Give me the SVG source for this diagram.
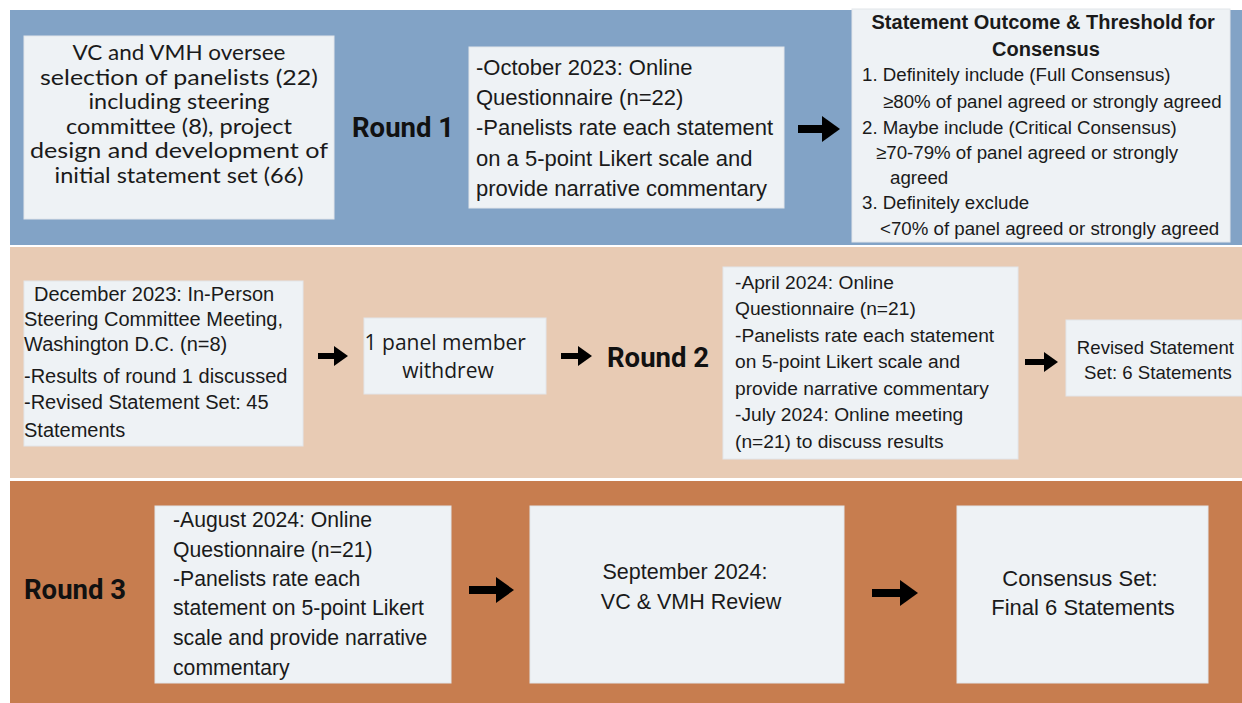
<svg xmlns="http://www.w3.org/2000/svg" width="1242" height="703" viewBox="0 0 1242 703">
<style>
.box{fill:#EEF2F5;stroke:#E2E6EA;stroke-width:1}
.t{font-family:"Liberation Sans",Arial,sans-serif;fill:#1a1a1a}
.h{font-family:Lato,"Open Sans",sans-serif;fill:#1a1a1a;font-size:20.5px;text-anchor:middle}
.o{font-family:"Open Sans",Lato,sans-serif;fill:#1a1a1a}
.r{font-family:Roboto,"Liberation Sans",sans-serif;font-weight:bold;fill:#111}
.c{stroke:#000;fill:none}
</style>
<defs>
<marker id="ah" markerUnits="userSpaceOnUse" markerWidth="20" markerHeight="26" refX="0" refY="13" orient="auto">
<path d="M0,0 L18,13 L0,26 Z" fill="#000"/>
</marker>
<marker id="ahs" markerUnits="userSpaceOnUse" markerWidth="16" markerHeight="20" refX="0" refY="10" orient="auto">
<path d="M0,0 L14,10 L0,20 Z" fill="#000"/>
</marker>
</defs>
<rect x="0" y="0" width="1242" height="703" fill="#ffffff"/>
<rect x="10" y="10" width="1232" height="235" fill="#82A3C6"/>
<rect x="10" y="247" width="1232" height="231" fill="#E8CBB4"/>
<rect x="10" y="481" width="1232" height="222" fill="#C77D4F"/>

<g id="n1">
<rect class="box" x="24" y="36" width="310" height="183"/>
<text class="h" x="179" y="60" textLength="213" lengthAdjust="spacingAndGlyphs">VC and VMH oversee</text>
<text class="h" x="179" y="84.5" textLength="278" lengthAdjust="spacingAndGlyphs">selection of panelists (22)</text>
<text class="h" x="179" y="109" textLength="181" lengthAdjust="spacingAndGlyphs">including steering</text>
<text class="h" x="179" y="133.5" textLength="226" lengthAdjust="spacingAndGlyphs">committee (8), project</text>
<text class="h" x="179" y="158" textLength="298" lengthAdjust="spacingAndGlyphs">design and development of</text>
<text class="h" x="179" y="182.5" textLength="249" lengthAdjust="spacingAndGlyphs">initial statement set (66)</text>
</g>
<g id="round1"><text class="r" font-size="27.5" x="352" y="137">Round 1</text></g>
<g id="n2">
<rect class="box" x="469" y="47" width="315" height="161"/>
<text class="t" font-size="22">
<tspan x="476" y="75">-October 2023: Online</tspan>
<tspan x="476" y="105">Questionnaire (n=22)</tspan>
<tspan x="476" y="135">-Panelists rate each statement</tspan>
<tspan x="476" y="166">on a 5-point Likert scale and</tspan>
<tspan x="476" y="196">provide narrative commentary</tspan>
</text>
</g>
<g id="n3">
<rect class="box" x="852" y="9" width="378" height="233"/>
<text class="t" font-size="20" font-weight="bold" text-anchor="middle">
<tspan x="1046" y="29">Statement Outcome &amp; Threshold for</tspan>
<tspan x="1046" y="56">Consensus</tspan>
</text>
<text class="t" font-size="18.7">
<tspan x="862" y="81">1. Definitely include (Full Consensus)</tspan>
<tspan x="883" y="108">≥80% of panel agreed or strongly agreed</tspan>
<tspan x="862" y="134">2. Maybe include (Critical Consensus)</tspan>
<tspan x="876" y="159">≥70-79% of panel agreed or strongly</tspan>
<tspan x="890" y="184">agreed</tspan>
<tspan x="862" y="209">3. Definitely exclude</tspan>
<tspan x="880" y="235">&lt;70% of panel agreed or strongly agreed</tspan>
</text>
</g>

<g id="n4">
<rect class="box" x="24" y="281" width="279" height="165"/>
<text class="t" font-size="20">
<tspan x="34" y="301">December 2023: In-Person</tspan>
<tspan x="24" y="326">Steering Committee Meeting,</tspan>
<tspan x="24" y="351">Washington D.C. (n=8)</tspan>
<tspan x="24" y="383">-Results of round 1 discussed</tspan>
<tspan x="24" y="409">-Revised Statement Set: 45</tspan>
<tspan x="24" y="437">Statements</tspan>
</text>
</g>
<g id="n5">
<rect class="box" x="364" y="318" width="182" height="76"/>
<text class="o" font-size="21" text-anchor="middle">
<tspan x="448" y="350">1 panel member</tspan>
<tspan x="448" y="378">withdrew</tspan>
</text>
</g>
<g id="round2"><text class="r" font-size="27.5" x="607" y="367">Round 2</text></g>
<g id="n6">
<rect class="box" x="723" y="267" width="295" height="192"/>
<text class="t" font-size="19.2">
<tspan x="735" y="289">-April 2024: Online</tspan>
<tspan x="735" y="315">Questionnaire (n=21)</tspan>
<tspan x="735" y="342">-Panelists rate each statement</tspan>
<tspan x="735" y="368">on 5-point Likert scale and</tspan>
<tspan x="735" y="395">provide narrative commentary</tspan>
<tspan x="735" y="421">-July 2024: Online meeting</tspan>
<tspan x="735" y="448">(n=21) to discuss results</tspan>
</text>
</g>
<g id="n7">
<rect class="box" x="1066" y="320" width="176" height="76"/>
<text class="t" font-size="18.6" text-anchor="middle">
<tspan x="1158" y="354">Revised Statement</tspan>
<tspan x="1158" y="379">Set: 6 Statements</tspan>
</text>
</g>

<g id="round3"><text class="r" font-size="27.5" x="24" y="599">Round 3</text></g>
<g id="n8">
<rect class="box" x="155" y="506" width="296" height="177"/>
<text class="t" font-size="21.2">
<tspan x="173" y="527">-August 2024: Online</tspan>
<tspan x="173" y="557">Questionnaire (n=21)</tspan>
<tspan x="173" y="586">-Panelists rate each</tspan>
<tspan x="173" y="615">statement on 5-point Likert</tspan>
<tspan x="173" y="645">scale and provide narrative</tspan>
<tspan x="173" y="675">commentary</tspan>
</text>
</g>
<g id="n9">
<rect class="box" x="530" y="506" width="314" height="177"/>
<text class="t" font-size="21.5" text-anchor="middle">
<tspan x="688" y="579">September 2024:</tspan>
<tspan x="691" y="609">VC &amp; VMH Review</tspan>
</text>
</g>
<g id="n10">
<rect class="box" x="957" y="506" width="251" height="177"/>
<text class="t" font-size="22" text-anchor="middle">
<tspan x="1083" y="586">Consensus Set:</tspan>
<tspan x="1083" y="615">Final 6 Statements</tspan>
</text>
</g>

<g id="connectors">
<line class="c" x1="798" y1="129" x2="822" y2="129" stroke-width="8" marker-end="url(#ah)"/>
<line class="c" x1="318" y1="356" x2="334" y2="356" stroke-width="6" marker-end="url(#ahs)"/>
<line class="c" x1="561" y1="356" x2="578" y2="356" stroke-width="6" marker-end="url(#ahs)"/>
<line class="c" x1="1025" y1="362" x2="1044" y2="362" stroke-width="6" marker-end="url(#ahs)"/>
<line class="c" x1="469" y1="590" x2="496" y2="590" stroke-width="8" marker-end="url(#ah)"/>
<line class="c" x1="872" y1="593" x2="900" y2="593" stroke-width="8" marker-end="url(#ah)"/>
</g>
</svg>
